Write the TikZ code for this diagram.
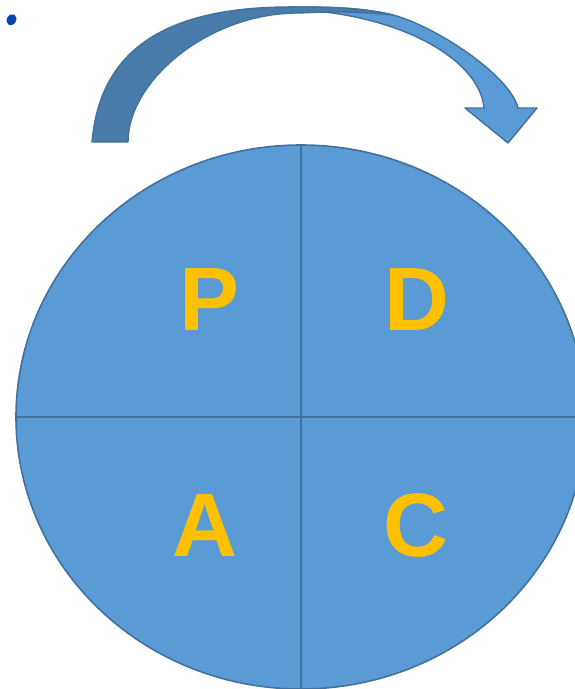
\documentclass[tikz,border=0pt]{standalone}
\usepackage{fontspec}
\setmainfont{Liberation Sans}
\usepackage{tikz}
\usetikzlibrary{positioning,shapes.geometric}

\definecolor{pdcafill}{HTML}{5B9BD5}
\definecolor{pdcaline}{HTML}{41719C}
\definecolor{pdcaback}{HTML}{497CAA}
\definecolor{pdcaletter}{HTML}{FFC000}
\definecolor{pdcadot}{HTML}{0047AB}

\begin{document}
\begin{tikzpicture}[x=1pt, y=-1pt,
			wheel/.style={ellipse, draw=pdcaline, fill=pdcafill, line width=1.6pt, minimum width=570pt, minimum height=544pt, inner sep=0pt},
			letter/.style={anchor=base, text=pdcaletter, font=\fontsize{90}{90}\selectfont\bfseries, inner sep=0pt},
			divider/.style={draw=pdcaline, line width=1.8pt},
			band/.style={draw=pdcaline, line width=1.4pt, line join=round},
			]
			\useasboundingbox (0,0) rectangle (574,689);

			%Arrow
				\fill[band, fill=pdcafill] (290,7) .. controls (340,7) and (365,8.5) .. (393,15)
					.. controls (435,26) and (510,75) .. (518,108)
					-- (537,108) -- (508,143) -- (465,108) -- (484,108)
					.. controls (480,60) and (400,12) .. (285,9) -- cycle;
				\fill[band, fill=pdcaback] (92,142) .. controls (100,50) and (165,5) .. (300,7)
					.. controls (340,7) and (365,8.5) .. (393,15)
					.. controls (365,12) and (335,11) .. (300,13)
					.. controls (210,12) and (128,80) .. (128,142) -- cycle;

			%Nodes
				\node[wheel]		(wheel)		at (301,417)		{};
				\node[letter]		(plan)		at (210,330)		{P};
				\node[letter]		(do)		at (417,330)		{D};
				\node[letter]		(act)		at (205,556)		{A};
				\node[letter]		(check)		at (416,556)		{C};
				\fill[pdcadot, rotate around={-30:(11.5,19.7)}] (11.5,19.7) ellipse (4.6 and 5.8);

			%Lines
				\draw[divider] (wheel.north) -- (wheel.south);
				\draw[divider] (wheel.west) -- (wheel.east);
		\end{tikzpicture}
\end{document}
